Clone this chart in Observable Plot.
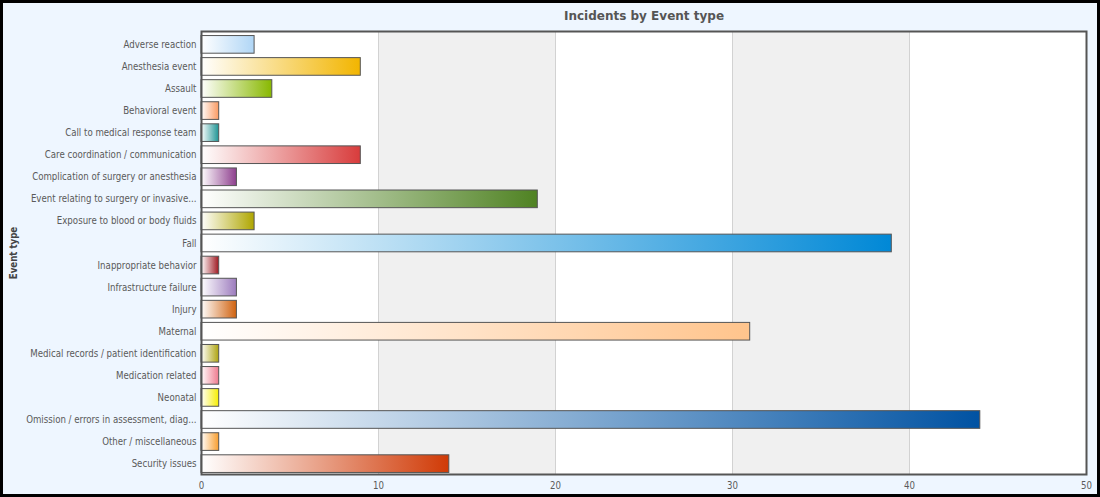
<!DOCTYPE html>
<html><head><meta charset="utf-8">
<script src="https://cdn.jsdelivr.net/npm/d3@7"></script>
<script src="https://cdn.jsdelivr.net/npm/@observablehq/plot@0.6"></script>
<style>
html,body{margin:0;padding:0;background:#eef6ff;}
#chart svg{display:block;border:3px solid #000;}
</style></head><body><div id="chart"></div>
<script>
const categories = [
  "Adverse reaction",
  "Anesthesia event",
  "Assault",
  "Behavioral event",
  "Call to medical response team",
  "Care coordination / communication",
  "Complication of surgery or anesthesia",
  "Event relating to surgery or invasive...",
  "Exposure to blood or body fluids",
  "Fall",
  "Inappropriate behavior",
  "Infrastructure failure",
  "Injury",
  "Maternal",
  "Medical records / patient identification",
  "Medication related",
  "Neonatal",
  "Omission / errors in assessment, diag...",
  "Other / miscellaneous",
  "Security issues"
];
const counts = [3, 9, 4, 1, 1, 9, 2, 19, 3, 39, 1, 2, 2, 31, 1, 1, 1, 44, 1, 14];
const barColors = [
  "#b0d6f6", "#f2b500", "#88b800", "#fa9a62", "#1f9595",
  "#d83c3c", "#8e3f8e", "#4f8222", "#afa600", "#0088d6",
  "#a01a22", "#9d7cbe", "#d0620f", "#ffc48c", "#aea410",
  "#ef7a8e", "#f6ee00", "#0052a2", "#f89e2e", "#d03a06"
];
const xTicks = [0, 10, 20, 30, 40, 50];
const shadedBands = [[10, 20], [30, 40]];
const gridValues = [10, 20, 30, 40];
const titleText = "Incidents by Event type";
const yTitle = "Event type";

const data = categories.map((c, i) => ({category: c, count: counts[i], fill: `url(#grad${i})`}));

const chart = Plot.plot({
  width: 1094,
  height: 491,
  marginLeft: 198,
  marginRight: 11,
  marginTop: 28,
  marginBottom: 20,
  style: {fontFamily: "'DejaVu Sans Condensed', 'DejaVu Sans', sans-serif", fontSize: "9.6px", color: "#5a5a5a", background: "#eef6ff"},
  x: {domain: [0, 50]},
  y: {domain: categories, paddingInner: 0.2, paddingOuter: 0.07, insetTop: 3, round: false},
  color: {type: "identity"},
  marks: [
    Plot.frame({fill: "white"}),
    Plot.rect(shadedBands, {x1: d => d[0], x2: d => d[1], fill: "#f0f0f0"}),
    Plot.ruleX(gridValues, {stroke: "#d2d2d2"}),
    Plot.barX(data, {y: "category", x: "count", fill: "fill", stroke: "#555", strokeWidth: 1, inset: 0}),
    Plot.frame({stroke: "#555", strokeWidth: 2}),
    Plot.axisY({tickSize: 0, tickPadding: 5, label: null}),
    Plot.axisX({ticks: xTicks, tickSize: 0, tickPadding: 8, label: null}),
    Plot.text([titleText], {frameAnchor: "top", dy: -20, fontWeight: "bold", fontSize: 12, fontFamily: "'DejaVu Sans', sans-serif", fill: "#555"}),
    Plot.text([yTitle], {frameAnchor: "left", dx: -188, rotate: -90, textAnchor: "middle", fontWeight: "bold", fontSize: 9.6, fill: "#444"})
  ]
});

const svg = d3.select(chart);
const defs = svg.insert("defs", ":first-child");
barColors.forEach((c, i) => {
  const g = defs.append("linearGradient").attr("id", `grad${i}`).attr("x1", 0).attr("x2", 1).attr("y1", 0).attr("y2", 0);
  g.append("stop").attr("offset", 0).attr("stop-color", "#ffffff");
  g.append("stop").attr("offset", 1).attr("stop-color", c);
});
document.getElementById("chart").appendChild(chart);
</script></body></html>
